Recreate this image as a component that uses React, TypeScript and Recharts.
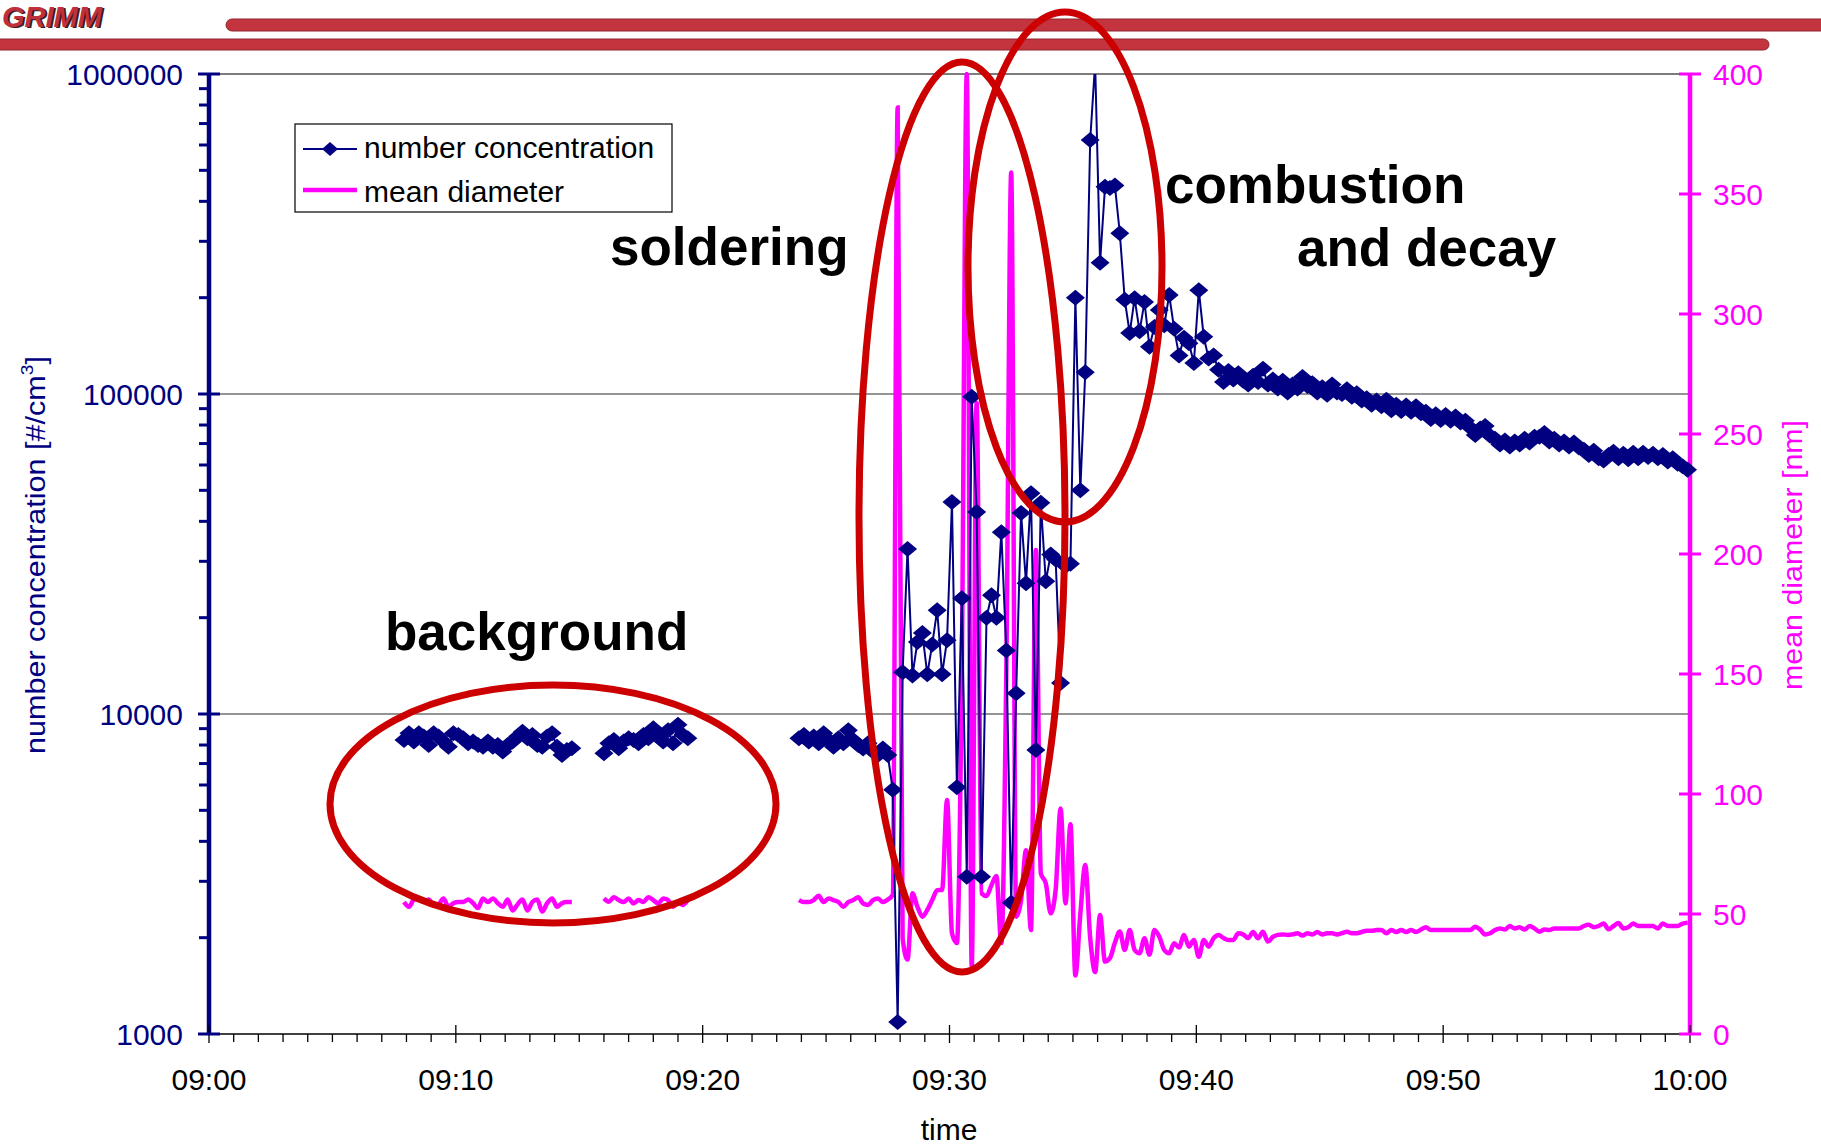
import { Line, LineChart, ReferenceLine, XAxis, YAxis } from 'recharts';

const W = 1821;
const H = 1146;
const NAVY = '#000080';
const MAGENTA = '#FF00FF';
const RED = '#CC0000';
const BAR = '#C4343F';
const FONT = '"Liberation Sans", Arial, sans-serif';

// GRIMM counter logs one sample every 12 s (0.2 min); time is minutes after 09:00
const sampleStep = 0.2;
const segmentStarts = [7.9, 16.0, 23.9];

// background, 09:08 - 09:15
const concA = [
  8290, 8700, 8200, 8700, 8500, 8000, 8700, 8500, 8200, 7900, 8700, 8600, 8400, 8100, 8200, 8000, 7900, 8200,
  7900, 8000, 7630, 8000, 8200, 8500, 8800, 8400, 8600, 8000, 7900, 8500, 8700, 7900, 7450, 7720, 7810,
];
const diamA = [
  55, 53, 56, 56.5, 55, 56, 53.5, 54, 56.5, 53, 54.5, 55, 55, 56, 54.5, 52.5, 56.5, 55, 56.5, 54.5, 53, 56, 51.5, 54,
  56, 51.5, 55, 56, 51, 54.5, 56.5, 53, 54.5, 55, 55,
];

// background, 09:16 - 09:19
const concB = [7540, 8100, 8290, 7810, 8200, 8400, 8290, 8100, 8600, 8400, 9030, 8700, 8200, 8900, 8100, 9250, 8600, 8400];
const diamB = [56.5, 55.1, 57, 55.8, 55, 56.5, 54.4, 55.8, 55, 57, 55.8, 54.4, 56.5, 55.8, 53, 55, 53.8, 55.8];

// 09:23.9 - 09:59.9, one row per minute
const concC = [
  8400, 8600, 8200, 8500, 8100,
  8700, 8300, 7900, 8400, 8100,
  8900, 8300, 8000, 7800, 8100,
  7630, 7450, 7800, 7450, 5800,
  1090, 13500, 32800, 13200, 16800,
  17900, 13300, 16500, 21100, 13300,
  17000, 46000, 5900, 23000, 3100,
  98000, 42800, 3100, 20000, 23500,
  20000, 37000, 15800, 2570, 11600,
  42500, 25600, 49000, 7720, 45700,
  26000, 31500, 30400, 12500, 29000,
  29500, 200000, 50000, 117000, 622000,
  1080000, 257000, 444000, 440000, 448000,
  318000, 197000, 155000, 199000, 157000,
  194000, 140500, 162000, 183000, 164000,
  204000, 160000, 132000, 150000, 144000,
  125000, 211000, 151000, 129000, 132000,
  119000, 109000, 118000, 111000, 116000,
  110000, 107000, 114000, 109000, 120000,
  107000, 111000, 104000, 110000, 101000,
  107000, 104000, 113000, 106000, 108000,
  101000, 105000, 99500, 107000, 101000,
  100000, 103500, 98000, 100500, 95500,
  97000, 92500, 95500, 91500, 96000,
  89000, 92500, 88500, 92000, 88000,
  91500, 87000, 88000, 83500, 86500,
  83000, 86000, 82500, 85000, 81500,
  82500, 78500, 74500, 78000, 79500,
  74000, 72500, 69500, 71500, 68500,
  71000, 69500, 72500, 70500, 73500,
  73500, 75500, 71000, 72500, 69500,
  71000, 68500, 70500, 68000, 67000,
  64500, 66500, 63000, 62000, 64500,
  66000, 63000, 65000, 62500, 65500,
  63000, 65500, 63500, 65000, 63000,
  64500, 61500, 63000, 60500, 59500,
  58000,
];
const diamC = [
  55.8, 55, 55, 55.8, 57.6,
  55, 56.5, 55.8, 55, 53,
  55, 55.8, 57, 54.4, 53.8,
  55.8, 56.5, 55, 56, 58,
  386, 40, 31, 58.6, 53,
  48.9, 51.7, 55.8, 59.9, 60,
  97.5, 42, 37.9, 154, 400,
  28, 263, 58.6, 57.5, 62,
  65.8, 37.9, 150, 359, 48.9,
  55.8, 76.6, 43.3, 201.7, 66.9,
  62.8, 50.3, 60, 94, 54.4,
  87.4, 24.4, 50, 70.4, 40,
  25.8, 49.6, 30.2, 31.6, 38,
  42.7, 35, 43.3, 35, 33.6,
  39.9, 33, 43.3, 40.5, 35,
  33.6, 37.8, 36, 41.3, 36.4,
  39.2, 32.2, 39.2, 36.4, 39.9,
  41.3, 40, 39.2, 39.2, 42,
  41.5, 40, 42.5, 39.9, 42.6,
  38.5, 40.5, 41.3, 41.5, 41.3,
  41.5, 42, 41, 42, 41.5,
  42.5, 41.5, 42, 42, 41.5,
  42, 42.6, 42, 42, 42.5,
  43, 43, 43.3, 43.3, 42,
  43.3, 42.5, 43.3, 42.5, 43.3,
  42.5, 43.5, 44.5, 43.3, 43.3,
  43.3, 43.3, 43.3, 43.3, 43.3,
  43.3, 43.3, 44.7, 43.5, 41.5,
  42, 43.3, 44, 43.5, 45,
  44, 44.5, 43.5, 45, 44,
  42.6, 43.5, 43.3, 44, 44,
  44, 44, 44, 44, 45,
  45.5, 44.5, 45, 46, 43.6,
  45, 46.2, 44, 44.5, 46,
  45, 45, 45, 45, 44,
  46, 45, 45, 45, 46,
  46.4,
];

const timeTicks = Array.from({ length: 61 }, (_, i) => i);
const timeLabels = ['09:00', '09:10', '09:20', '09:30', '09:40', '09:50', '10:00'];
const decades = [1000, 10000, 100000, 1000000];
const concTicks = [...[1000, 10000, 100000].flatMap((d) => [1, 2, 3, 4, 5, 6, 7, 8, 9].map((m) => m * d)), 1000000];
const diamTicks = [0, 50, 100, 150, 200, 250, 300, 350, 400];

const segments = [
  { start: segmentStarts[0], conc: concA, diam: diamA },
  { start: segmentStarts[1], conc: concB, diam: diamB },
  { start: segmentStarts[2], conc: concC, diam: diamC },
];

type Row = { t: number; n: number | null; d: number | null };
const rows: Row[] = [];
segments.forEach((s, si) => {
  // a gap between logging runs
  if (si > 0) rows.push({ t: +(s.start - 0.1).toFixed(2), n: null, d: null });
  s.conc.forEach((n, i) => rows.push({ t: +(s.start + i * sampleStep).toFixed(2), n, d: s.diam[i] }));
});

function renderDiamond(props: any) {
  const { cx, cy, index, payload } = props;
  if (payload == null || payload.n == null || cx == null || cy == null) return <g key={`dm-${index}`} />;
  return (
    <polygon key={`dm-${index}`} points={`${cx},${cy - 8} ${cx + 9.5},${cy} ${cx},${cy + 8} ${cx - 9.5},${cy}`} fill={NAVY} />
  );
}

function TimeTick(props: any) {
  const { x, y, payload } = props;
  const v = payload.value;
  const major = v % 10 === 0;
  return (
    <g>
      <line x1={x} x2={x} y1={major ? y - 9 : y} y2={major ? y + 9 : y + 8} stroke="#000" strokeWidth={1.3} />
      {major && (
        <text x={x} y={y + 56} textAnchor="middle" fontSize={30} fontFamily={FONT} fill="#000">
          {timeLabels[v / 10]}
        </text>
      )}
    </g>
  );
}

function ConcTick(props: any) {
  const { x, y, payload } = props;
  const v = payload.value;
  const major = decades.includes(v);
  return (
    <g>
      <line x1={major ? x - 11 : x - 10} x2={major ? x + 11 : x} y1={y} y2={y} stroke={NAVY} strokeWidth={3} />
      {major && (
        <text x={x - 26} y={y + 11} textAnchor="end" fontSize={30} fontFamily={FONT} fill={NAVY}>
          {v}
        </text>
      )}
    </g>
  );
}

function DiamTick(props: any) {
  const { x, y, payload } = props;
  return (
    <g>
      <line x1={x - 11} x2={x + 11} y1={y} y2={y} stroke={MAGENTA} strokeWidth={3} />
      <text x={x + 23} y={y + 11} textAnchor="start" fontSize={30} fontFamily={FONT} fill={MAGENTA}>
        {payload.value}
      </text>
    </g>
  );
}

const bold = { fontSize: 53, fontWeight: 700, fontFamily: FONT, fill: '#000' } as const;

export default function App() {
  return (
    <div style={{ position: 'absolute', left: 0, top: 0, width: W, height: H, background: '#fff', overflow: 'hidden' }}>
      <LineChart width={W} height={H} data={rows} margin={{ top: 74, right: 31, bottom: 52, left: 89 }}>
        <XAxis
          dataKey="t"
          type="number"
          domain={[0, 60]}
          ticks={timeTicks}
          interval={0}
          height={60}
          tickSize={0}
          tickMargin={0}
          tickLine={false}
          axisLine={{ stroke: '#000', strokeWidth: 1.5 }}
          tick={<TimeTick />}
        />
        <YAxis
          yAxisId="n"
          scale="log"
          domain={[1000, 1000000]}
          allowDataOverflow
          ticks={concTicks}
          interval={0}
          width={120}
          tickSize={0}
          tickMargin={0}
          tickLine={false}
          axisLine={{ stroke: NAVY, strokeWidth: 4.5 }}
          tick={<ConcTick />}
        />
        <YAxis
          yAxisId="d"
          orientation="right"
          domain={[0, 400]}
          ticks={diamTicks}
          interval={0}
          width={100}
          tickSize={0}
          tickMargin={0}
          tickLine={false}
          axisLine={{ stroke: MAGENTA, strokeWidth: 4.5 }}
          tick={<DiamTick />}
        />
        <ReferenceLine yAxisId="n" y={10000} stroke="#707070" strokeWidth={1.5} />
        <ReferenceLine yAxisId="n" y={100000} stroke="#707070" strokeWidth={1.5} />
        <ReferenceLine yAxisId="n" y={1000000} stroke="#505050" strokeWidth={1.5} />
        <Line
          yAxisId="d"
          dataKey="d"
          type="monotone"
          stroke={MAGENTA}
          strokeWidth={4.5}
          dot={false}
          activeDot={false}
          isAnimationActive={false}
        />
        <Line
          yAxisId="n"
          dataKey="n"
          type="linear"
          stroke={NAVY}
          strokeWidth={2}
          dot={renderDiamond}
          activeDot={false}
          isAnimationActive={false}
        />
      </LineChart>

      <svg width={W} height={H} style={{ position: 'absolute', left: 0, top: 0, pointerEvents: 'none' }}>
        {/* header bars and logo */}
        <rect x={226} y={19} width={1640} height={12} rx={6} fill={BAR} stroke="#8E2630" strokeWidth={1} />
        <rect x={-20} y={39} width={1789} height={11} rx={5.5} fill={BAR} stroke="#8E2630" strokeWidth={1} />
        <text x={4} y={28} fontSize={30} fontStyle="italic" fontWeight={700} fontFamily={FONT} textLength={100}
          lengthAdjust="spacingAndGlyphs" fill="#3a1a1e">GRIMM</text>
        <text x={2} y={27} fontSize={30} fontStyle="italic" fontWeight={700} fontFamily={FONT} textLength={100}
          lengthAdjust="spacingAndGlyphs" fill="#C0303C">GRIMM</text>

        {/* legend */}
        <rect x={295} y={124} width={377} height={88} fill="#fff" stroke="#000" strokeWidth={1.2} />
        <line x1={303} x2={357} y1={149} y2={149} stroke={NAVY} strokeWidth={2} />
        <polygon points="330,142 338,149 330,156 322,149" fill={NAVY} />
        <text x={364} y={158} fontSize={30} fontFamily={FONT} fill="#000">number concentration</text>
        <line x1={303} x2={357} y1={190} y2={190} stroke={MAGENTA} strokeWidth={4.5} />
        <text x={364} y={202} fontSize={30} fontFamily={FONT} fill="#000">mean diameter</text>

        {/* axis titles */}
        <text transform="translate(45,555) rotate(-90)" textAnchor="middle" fontSize={27} fontFamily={FONT} fill={NAVY}
          textLength={398} lengthAdjust="spacingAndGlyphs">
          number concentration [#/cm<tspan dy={-12} fontSize={17}>3</tspan><tspan dy={12}>]</tspan>
        </text>
        <text transform="translate(1802,555) rotate(-90)" textAnchor="middle" fontSize={27} fontFamily={FONT} fill={MAGENTA}
          textLength={270} lengthAdjust="spacingAndGlyphs">
          mean diameter [nm]
        </text>
        <text x={949} y={1140} textAnchor="middle" fontSize={30} fontFamily={FONT} fill="#000">time</text>

        {/* annotations */}
        <text x={610} y={265} {...bold}>soldering</text>
        <text x={1165} y={203} {...bold}>combustion</text>
        <text x={1297} y={266} {...bold}>and decay</text>
        <text x={385} y={650} {...bold}>background</text>

        <ellipse cx={553} cy={804} rx={223} ry={119} fill="none" stroke={RED} strokeWidth={7} />
        <ellipse cx={962} cy={517} rx={103} ry={455} fill="none" stroke={RED} strokeWidth={7} />
        <ellipse cx={1065} cy={267} rx={97} ry={255} fill="none" stroke={RED} strokeWidth={7} />
      </svg>
    </div>
  );
}
